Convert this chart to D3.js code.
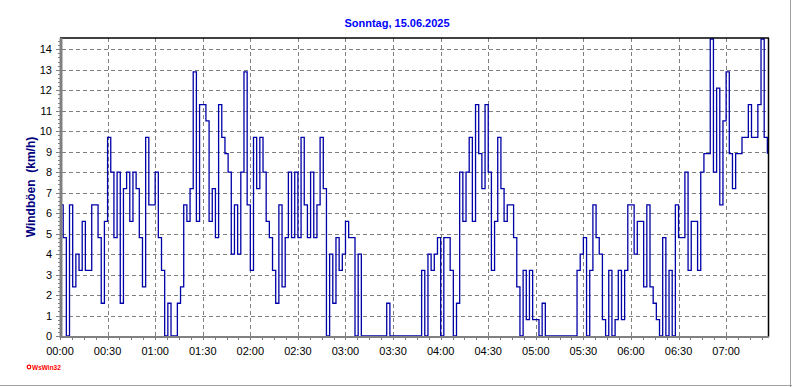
<!DOCTYPE html>
<html>

<head>
    <meta charset="utf-8">
    <style>
        html,
        body {
            margin: 0;
            padding: 0;
            background-color: #ffffff;
        }

        svg {
            display: block;
            font-family: "Liberation Sans", Arial, sans-serif;
        }

        .grid line {
            stroke: #808080;
            stroke-width: 1;
            stroke-dasharray: 4, 3;
        }

        .tickLabel {
            fill: #000000;
            font-size: 11px;
        }
    </style>
</head>

<body>
    <div id="chart"></div>

    <script src="https://cdn.jsdelivr.net/npm/d3@7"></script>
    <script>
        // Wind gusts in km/h, one reading every 2 minutes, one array per hour
        var gusts00 = [6.4, 4.8, 0, 6.4, 2.4, 4.0, 3.2, 5.6, 3.2, 3.2, 6.4, 6.4, 4.8, 1.6, 5.6,
            9.7, 8.0, 4.8, 8.0, 1.6, 7.2, 8.0, 5.6, 8.0, 7.2, 4.8, 2.4, 9.7, 6.4, 6.4];
        var gusts01 = [8.0, 4.8, 3.2, 0, 1.6, 0, 0, 1.6, 2.4, 6.4, 5.6, 7.2, 12.9, 5.6, 11.3,
            11.3, 10.5, 5.6, 7.2, 4.8, 11.3, 9.7, 8.9, 8.0, 4.0, 6.4, 4.0, 8.0, 12.9, 6.4];
        var gusts02 = [3.2, 9.7, 7.2, 9.7, 8.0, 5.6, 4.8, 3.2, 1.6, 6.4, 2.4, 4.8, 8.0, 4.8, 8.0,
            4.8, 9.7, 6.4, 4.8, 8.0, 4.8, 6.4, 9.7, 7.2, 0, 4.0, 1.6, 4.8, 3.2, 4.0];
        var gusts03 = [5.6, 4.8, 4.8, 0, 4.0, 0, 0, 0, 0, 0, 0, 0, 0, 1.6, 0,
            0, 0, 0, 0, 0, 0, 0, 0, 0, 3.2, 0, 4.0, 3.2, 4.0, 4.8];
        var gusts04 = [0, 4.8, 4.8, 3.2, 0, 1.6, 8.0, 5.6, 8.0, 9.7, 5.6, 11.3, 8.9, 7.2, 11.3,
            8.0, 3.2, 5.6, 9.7, 7.2, 5.6, 6.4, 6.4, 4.8, 2.4, 0, 3.2, 0.8, 3.2, 0.8];
        var gusts05 = [0.8, 0, 1.6, 0, 0, 0, 0, 0, 0, 0, 0, 0, 0, 3.2, 4.0,
            4.8, 0, 3.2, 6.4, 4.8, 4.0, 0.8, 0, 3.2, 0, 0.8, 3.2, 0.8, 3.2, 6.4];
        var gusts06 = [6.4, 4.0, 5.6, 5.6, 2.4, 6.4, 2.4, 1.6, 0.8, 0, 4.8, 0, 3.2, 0, 6.4,
            4.8, 4.8, 8.0, 3.2, 5.6, 5.6, 3.2, 8.0, 8.9, 8.9, 14.5, 8.0, 12.1, 6.4, 10.5];
        var gusts07 = [12.9, 8.9, 7.2, 8.9, 8.9, 9.7, 9.7, 11.3, 9.7, 9.7, 11.3, 14.5, 9.7, 8.9];

        var stepMinutes = 2;
        var endMinutes = 446.4;
        var yMax = 14.55;

        var yTicks = [0, 1, 2, 3, 4, 5, 6, 7, 8, 9, 10, 11, 12, 13, 14];
        var xTickLabels = ["00:00", "00:30", "01:00", "01:30", "02:00", "02:30", "03:00", "03:30",
            "04:00", "04:30", "05:00", "05:30", "06:00", "06:30", "07:00"];

        var title = "Sonntag, 15.06.2025";
        var yTitle = "Windböen\u00a0\u00a0(km/h)";
        var credit = "WsWin32";

        // establishing variables
        var width = 792,
            height = 387,
            plotLeft = 60,
            plotRight = 768,
            plotTop = 38,
            plotBottom = 336;

        var gusts = [].concat(gusts00, gusts01, gusts02, gusts03, gusts04, gusts05, gusts06, gusts07);
        var data = gusts.map(function (v, i) { return { t: i * stepMinutes, v: v }; });

        var xscale = d3.scaleLinear()
            .domain([0, endMinutes])
            .range([plotLeft, plotRight]);

        var yscale = d3.scaleLinear()
            .domain([0, yMax])
            .range([plotBottom, plotTop]);

        var majorX = xTickLabels.map(function (d, i) { return i * 30; });
        var minorX = d3.range(0, endMinutes, 7.5);
        var minorY = d3.range(0, yMax, 0.2);

        var svg = d3.select("#chart").append("svg")
            .attr("width", width)
            .attr("height", height);

        // outer frame
        svg.append("line")
            .attr("x1", 0).attr("x2", width)
            .attr("y1", height - 1.5).attr("y2", height - 1.5)
            .attr("stroke", "#a0a0a0").attr("stroke-width", 1);
        svg.append("line")
            .attr("x1", width - 1.5).attr("x2", width - 1.5)
            .attr("y1", 0).attr("y2", height)
            .attr("stroke", "#a0a0a0").attr("stroke-width", 1);

        // grid
        var grid = svg.append("g").attr("class", "grid");
        grid.selectAll(".hgrid")
            .data(yTicks.slice(1))
            .enter().append("line")
            .attr("x1", plotLeft + 2)
            .attr("x2", plotRight)
            .attr("y1", function (d) { return Math.round(yscale(d)) + 0.5; })
            .attr("y2", function (d) { return Math.round(yscale(d)) + 0.5; });
        grid.selectAll(".vgrid")
            .data(majorX.slice(1))
            .enter().append("line")
            .attr("x1", function (d) { return Math.round(xscale(d)) + 0.5; })
            .attr("x2", function (d) { return Math.round(xscale(d)) + 0.5; })
            .attr("y1", plotTop)
            .attr("y2", plotBottom);

        // Add data line
        svg.append("clipPath").attr("id", "plotClip")
            .append("rect")
            .attr("x", plotLeft).attr("y", plotTop - 1)
            .attr("width", plotRight - plotLeft).attr("height", plotBottom - plotTop + 1);

        var line = d3.line()
            .x(function (d) { return xscale(d.t); })
            .y(function (d) { return yscale(d.v); })
            .curve(d3.curveStepAfter);

        svg.append("path")
            .datum(data)
            .attr("clip-path", "url(#plotClip)")
            .attr("fill", "none")
            .attr("stroke", "#0000a8")
            .attr("stroke-width", 1.3)
            .attr("d", line);

        // plot border (top and right)
        svg.append("line")
            .attr("x1", plotLeft).attr("x2", plotRight + 1)
            .attr("y1", plotTop).attr("y2", plotTop)
            .attr("stroke", "#000000").attr("stroke-width", 1.5);
        svg.append("line")
            .attr("x1", plotRight + 0.5).attr("x2", plotRight + 0.5)
            .attr("y1", plotTop).attr("y2", plotBottom + 1)
            .attr("stroke", "#000000").attr("stroke-width", 1.5);

        // Add Y axis
        var yAxis = svg.append("g").attr("class", "yAxis");
        yAxis.selectAll(".minor")
            .data(minorY)
            .enter().append("line")
            .attr("x1", plotLeft - 2).attr("x2", plotLeft)
            .attr("y1", function (d) { return Math.round(yscale(d)) + 0.5; })
            .attr("y2", function (d) { return Math.round(yscale(d)) + 0.5; })
            .attr("stroke", "#808080");
        yAxis.selectAll(".major")
            .data(yTicks)
            .enter().append("line")
            .attr("x1", plotLeft - 4).attr("x2", plotLeft)
            .attr("y1", function (d) { return Math.round(yscale(d)) + 0.5; })
            .attr("y2", function (d) { return Math.round(yscale(d)) + 0.5; })
            .attr("stroke", "#808080");
        yAxis.append("line")
            .attr("x1", plotLeft + 1).attr("x2", plotLeft + 1)
            .attr("y1", plotTop).attr("y2", plotBottom + 2)
            .attr("stroke", "#808080").attr("stroke-width", 3);
        yAxis.selectAll("text")
            .data(yTicks)
            .enter().append("text")
            .attr("class", "tickLabel")
            .attr("text-anchor", "end")
            .attr("x", plotLeft - 8)
            .attr("y", function (d) { return yscale(d) + 4; })
            .text(function (d) { return d; });

        // Add X axis
        var xAxis = svg.append("g").attr("class", "xAxis");
        xAxis.append("line")
            .attr("x1", plotLeft).attr("x2", plotRight + 1)
            .attr("y1", plotBottom + 1).attr("y2", plotBottom + 1)
            .attr("stroke", "#808080").attr("stroke-width", 2);
        xAxis.selectAll(".minor")
            .data(minorX)
            .enter().append("line")
            .attr("x1", function (d) { return Math.round(xscale(d)) + 0.5; })
            .attr("x2", function (d) { return Math.round(xscale(d)) + 0.5; })
            .attr("y1", plotBottom + 1)
            .attr("y2", plotBottom + 4)
            .attr("stroke", "#808080");
        xAxis.selectAll("text")
            .data(xTickLabels)
            .enter().append("text")
            .attr("class", "tickLabel")
            .attr("text-anchor", "middle")
            .attr("x", function (d, i) { return xscale(majorX[i]); })
            .attr("y", plotBottom + 19)
            .text(function (d) { return d; });

        // Add title
        svg.append("text")
            .attr("x", 397)
            .attr("y", 27)
            .attr("text-anchor", "middle")
            .attr("fill", "#0000ff")
            .attr("font-size", "11px")
            .attr("font-weight", "bold")
            .text(title);

        // Add Y axis label
        svg.append("text")
            .attr("text-anchor", "middle")
            .attr("transform", "translate(35,187) rotate(-90)")
            .attr("fill", "#000080")
            .attr("font-size", "12px")
            .attr("font-weight", "bold")
            .text(yTitle);

        // credit in the corner
        svg.append("circle")
            .attr("cx", 29).attr("cy", 367)
            .attr("r", 1.8)
            .attr("fill", "none")
            .attr("stroke", "#ff0000")
            .attr("stroke-width", 1.2);
        svg.append("text")
            .attr("x", 32)
            .attr("y", 369.5)
            .attr("fill", "#ff0000")
            .attr("font-size", "6.5px")
            .attr("font-weight", "bold")
            .text(credit);
    </script>
</body>

</html>
